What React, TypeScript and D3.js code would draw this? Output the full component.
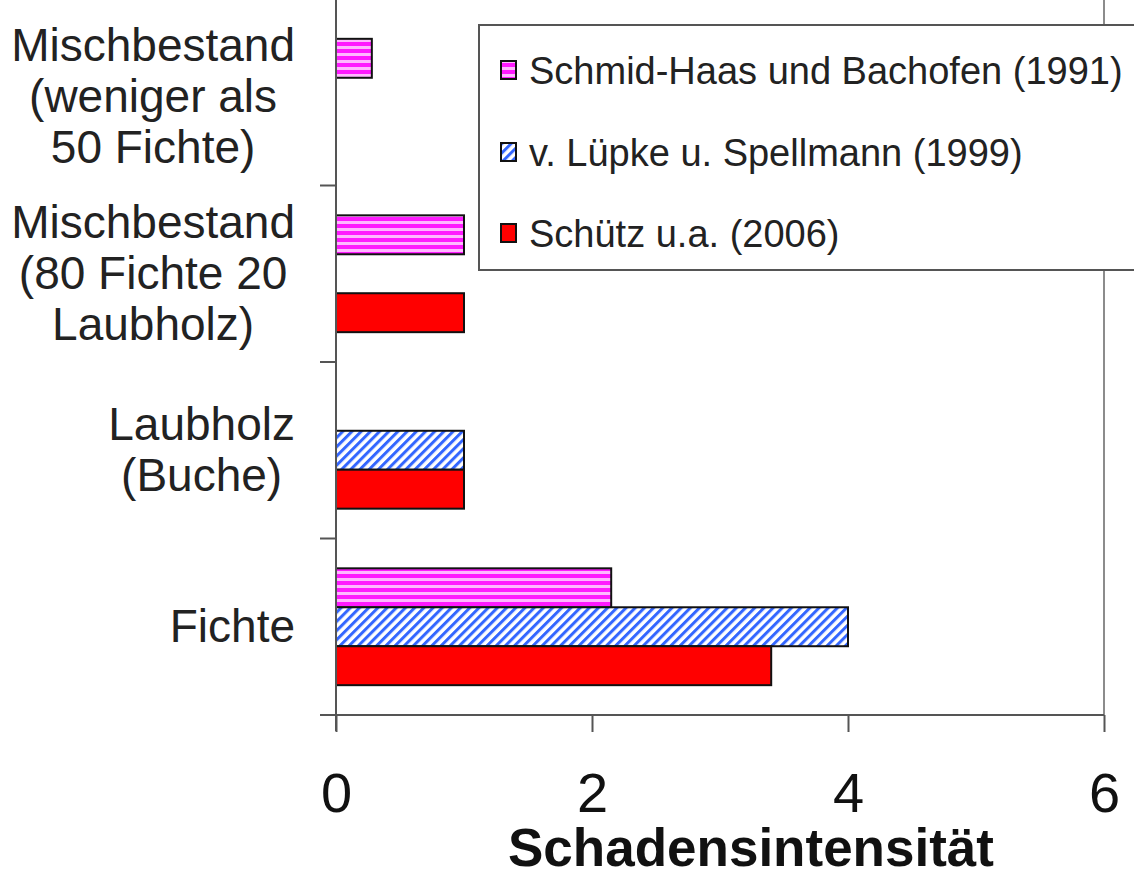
import React, { useRef, useEffect } from "react";
import * as d3 from "d3";

// Categories from top to bottom (each label split into lines)
const categories = [
  "Mischbestand (weniger als 50 Fichte)",
  "Mischbestand (80 Fichte 20 Laubholz)",
  "Laubholz (Buche)",
  "Fichte",
];
const categoryLines = [
  ["Mischbestand", "(weniger als", "50 Fichte)"],
  ["Mischbestand", "(80 Fichte 20", "Laubholz)"],
  ["Laubholz", "(Buche)"],
  ["Fichte"],
];

const seriesNames = [
  "Schmid-Haas und Bachofen (1991)",
  "v. Lüpke u. Spellmann (1999)",
  "Schütz u.a. (2006)",
];

// null = no bar
const schmidHaas = [0.28, 1.0, null, 2.15];
const luepke = [null, null, 1.0, 4.0];
const schuetz = [null, 1.0, 1.0, 3.4];

const xTicks = [0, 2, 4, 6];

const App: React.FC = () => {
  const svgRef = useRef<SVGSVGElement | null>(null);
  const width = 1134;
  const height = 877;

  useEffect(() => {
    document.body.style.margin = "0";
    const svg = d3.select(svgRef.current);
    svg.selectAll("*").remove();

    const font = "'Liberation Sans', Arial, sans-serif";
    const axisColor = "#555";

    const plot = { left: 336, right: 1104, top: 9, bottom: 715 };

    const x = d3.scaleLinear().domain([0, 6]).range([plot.left, plot.right]);
    const y = d3
      .scaleBand<string>()
      .domain(categories)
      .range([plot.top, plot.bottom])
      .paddingInner(0.338)
      .paddingOuter(0.169);
    const ySub = d3
      .scaleBand<number>()
      .domain([0, 1, 2])
      .range([0, y.bandwidth()]);

    // patterns
    const defs = svg.append("defs");
    const pink = defs
      .append("pattern")
      .attr("id", "pinkStripes")
      .attr("patternUnits", "userSpaceOnUse")
      .attr("width", 8)
      .attr("height", 7);
    pink.append("rect").attr("width", 8).attr("height", 7).attr("fill", "#ffb8ff");
    pink.append("rect").attr("width", 8).attr("height", 4).attr("fill", "#ff1aff");

    const blue = defs
      .append("pattern")
      .attr("id", "blueStripes")
      .attr("patternUnits", "userSpaceOnUse")
      .attr("width", 6.5)
      .attr("height", 6.5)
      .attr("patternTransform", "rotate(45)");
    blue.append("rect").attr("width", 6.5).attr("height", 6.5).attr("fill", "#ffffff");
    blue.append("rect").attr("width", 3).attr("height", 6.5).attr("fill", "#3366ff");

    const fills = ["url(#pinkStripes)", "url(#blueStripes)", "#ff0000"];
    const seriesData = [schmidHaas, luepke, schuetz];

    // right gridline at 6
    svg
      .append("line")
      .attr("x1", x(6))
      .attr("x2", x(6))
      .attr("y1", 0)
      .attr("y2", plot.bottom)
      .attr("stroke", "#666")
      .attr("stroke-width", 1.5);

    // bars
    seriesData.forEach((values, si) => {
      svg
        .append("g")
        .selectAll("rect")
        .data(values.map((v, i) => ({ v, c: categories[i] })).filter((d) => d.v !== null))
        .join("rect")
        .attr("x", x(0))
        .attr("y", (d) => (y(d.c) as number) + (ySub(si) as number))
        .attr("width", (d) => x(d.v as number) - x(0))
        .attr("height", ySub.bandwidth())
        .attr("fill", fills[si])
        .attr("stroke", "#111")
        .attr("stroke-width", 2);
    });

    // y axis line and category boundary ticks
    svg
      .append("line")
      .attr("x1", plot.left)
      .attr("x2", plot.left)
      .attr("y1", 0)
      .attr("y2", plot.bottom + 16)
      .attr("stroke", axisColor)
      .attr("stroke-width", 2);
    categories.forEach((c) => {
      const yb = (y(c) as number) - y.step() * y.paddingOuter() + y.step();
      svg
        .append("line")
        .attr("x1", plot.left - 16)
        .attr("x2", plot.left)
        .attr("y1", yb)
        .attr("y2", yb)
        .attr("stroke", axisColor)
        .attr("stroke-width", 2);
    });

    // x axis
    const xAxis = d3
      .axisBottom(x)
      .tickValues(xTicks)
      .tickSize(17)
      .tickSizeOuter(0)
      .tickPadding(40)
      .tickFormat(d3.format("d") as any);
    const gx = svg
      .append("g")
      .attr("transform", `translate(0,${plot.bottom})`)
      .call(xAxis);
    gx.select(".domain").remove();
    gx.selectAll(".tick line").attr("stroke", axisColor).attr("stroke-width", 2);
    gx.selectAll(".tick text")
      .attr("font-family", font)
      .attr("font-size", 56)
      .attr("fill", "#111");
    svg
      .append("line")
      .attr("x1", plot.left - 16)
      .attr("x2", plot.right)
      .attr("y1", plot.bottom)
      .attr("y2", plot.bottom)
      .attr("stroke", axisColor)
      .attr("stroke-width", 2);

    // x axis title
    svg
      .append("text")
      .attr("x", 751)
      .attr("y", 866)
      .attr("text-anchor", "middle")
      .attr("font-family", font)
      .attr("font-weight", "bold")
      .attr("font-size", 53)
      .attr("fill", "#111")
      .text("Schadensintensität");

    // category labels: block right-aligned, lines centred within block
    const lineH = 51;
    categoryLines.forEach((lines, ci) => {
      const cy = (y(categories[ci]) as number) + y.bandwidth() / 2;
      const g = svg.append("g");
      const texts = g
        .selectAll("text")
        .data(lines)
        .join("text")
        .attr("font-family", font)
        .attr("font-size", 46)
        .attr("fill", "#222")
        .attr("text-anchor", "middle")
        .attr("y", (_, i) => cy + 15 + (i - (lines.length - 1) / 2) * lineH)
        .text((d) => d);
      let maxW = 0;
      texts.each(function () {
        maxW = Math.max(maxW, (this as SVGTextElement).getComputedTextLength());
      });
      texts.attr("x", 295 - maxW / 2);
    });

    // legend
    const legend = svg.append("g");
    legend
      .append("rect")
      .attr("x", 479)
      .attr("y", 25)
      .attr("width", 700)
      .attr("height", 245)
      .attr("fill", "#fff")
      .attr("stroke", axisColor)
      .attr("stroke-width", 2);
    const rowY = [70, 152, 233];
    seriesNames.forEach((name, i) => {
      legend
        .append("rect")
        .attr("x", 501)
        .attr("y", rowY[i] - 9)
        .attr("width", 15)
        .attr("height", 18)
        .attr("fill", fills[i])
        .attr("stroke", "#111")
        .attr("stroke-width", 2);
      legend
        .append("text")
        .attr("x", 529)
        .attr("y", rowY[i] + 14)
        .attr("font-family", font)
        .attr("font-size", 38)
        .attr("fill", "#222")
        .text(name);
    });
  }, []);

  return <svg ref={svgRef} width={width} height={height} style={{ display: "block", background: "#fff" }}></svg>;
};

export default App;
